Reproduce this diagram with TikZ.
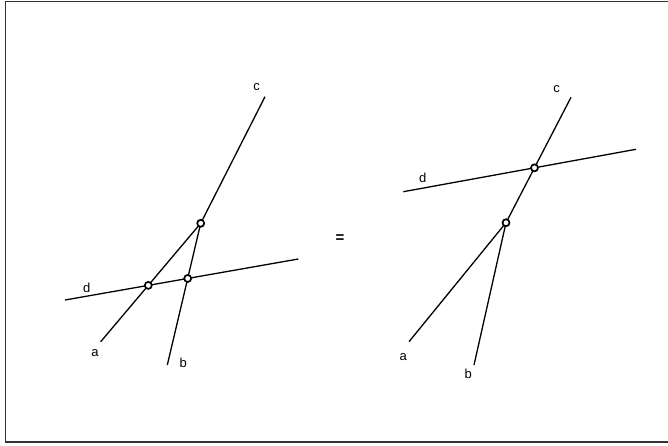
\documentclass[tikz,border=0pt]{standalone}
\usepackage{fontspec}
\setmainfont{Liberation Sans}
\usetikzlibrary{positioning}
\tikzset{
  ray/.style={line width=1.3pt, color=black},
  meet/.style={circle, draw=black, fill=white, line width=1.7pt,
    minimum size=7pt, inner sep=0pt},
  lbl/.style={font=\fontsize{13}{15}\selectfont, inner sep=0pt},
  frame/.style={line width=1.2pt, color=black!80},
}
\begin{document}
\begin{tikzpicture}[x=1pt,y=-1pt]
  \useasboundingbox (0,0) rectangle (668,445);
  % outer frame (right side runs off the page)
  \draw[frame] (668,1.5) -- (5.5,1.5) -- (5.5,442) -- (668,442);
  % left: d cuts a and b below their common point
  \coordinate (la) at (100.7,341.7);
  \coordinate (lb) at (167.3,365);
  \coordinate (lc) at (265,96.7);
  \coordinate (lp) at (200.7,223.3);
  \coordinate (ld1) at (65,300);
  \coordinate (ld2) at (298.3,259);
  \coordinate (lda) at (intersection of la--lp and ld1--ld2);
  \coordinate (ldb) at (intersection of lb--lp and ld1--ld2);
  \draw[ray] (la) -- (lp) -- (lb);
  \draw[ray] (lp) -- (lc);
  \draw[ray] (ld1) -- (ld2);
  \node[meet] (lP) at (lp) {};
  \node[meet] (lA) at (lda) {};
  \node[meet] (lB) at (ldb) {};
  \node[lbl] (lcl) at (256.7,87) {c};
  \node[lbl] (ldl) at (86.7,287.7) {d};
  \node[lbl] (lal) at (95,352.7) {a};
  \node[lbl] (lbl) at (183.3,363.3) {b};
  % equals sign
  \node[lbl, font=\fontsize{15}{17}\selectfont\bfseries] (eq) at (340,238.3) {=};
  % right: d cuts c above the common point
  \coordinate (ra) at (409,341.7);
  \coordinate (rb) at (474,365);
  \coordinate (rc) at (571,97.3);
  \coordinate (rp) at (506,222.7);
  \coordinate (rd1) at (403.3,191.7);
  \coordinate (rd2) at (636,149.3);
  \coordinate (rdc) at (intersection of rp--rc and rd1--rd2);
  \draw[ray] (ra) -- (rp) -- (rb);
  \draw[ray] (rp) -- (rc);
  \draw[ray] (rd1) -- (rd2);
  \node[meet] (rP) at (rp) {};
  \node[meet] (rC) at (rdc) {};
  \node[lbl] (rcl) at (556.7,89.3) {c};
  \node[lbl] (rdl) at (422.7,177.7) {d};
  \node[lbl] (ral) at (403.3,356.7) {a};
  \node[lbl] (rbl) at (468.3,374) {b};
\end{tikzpicture}
\end{document}
